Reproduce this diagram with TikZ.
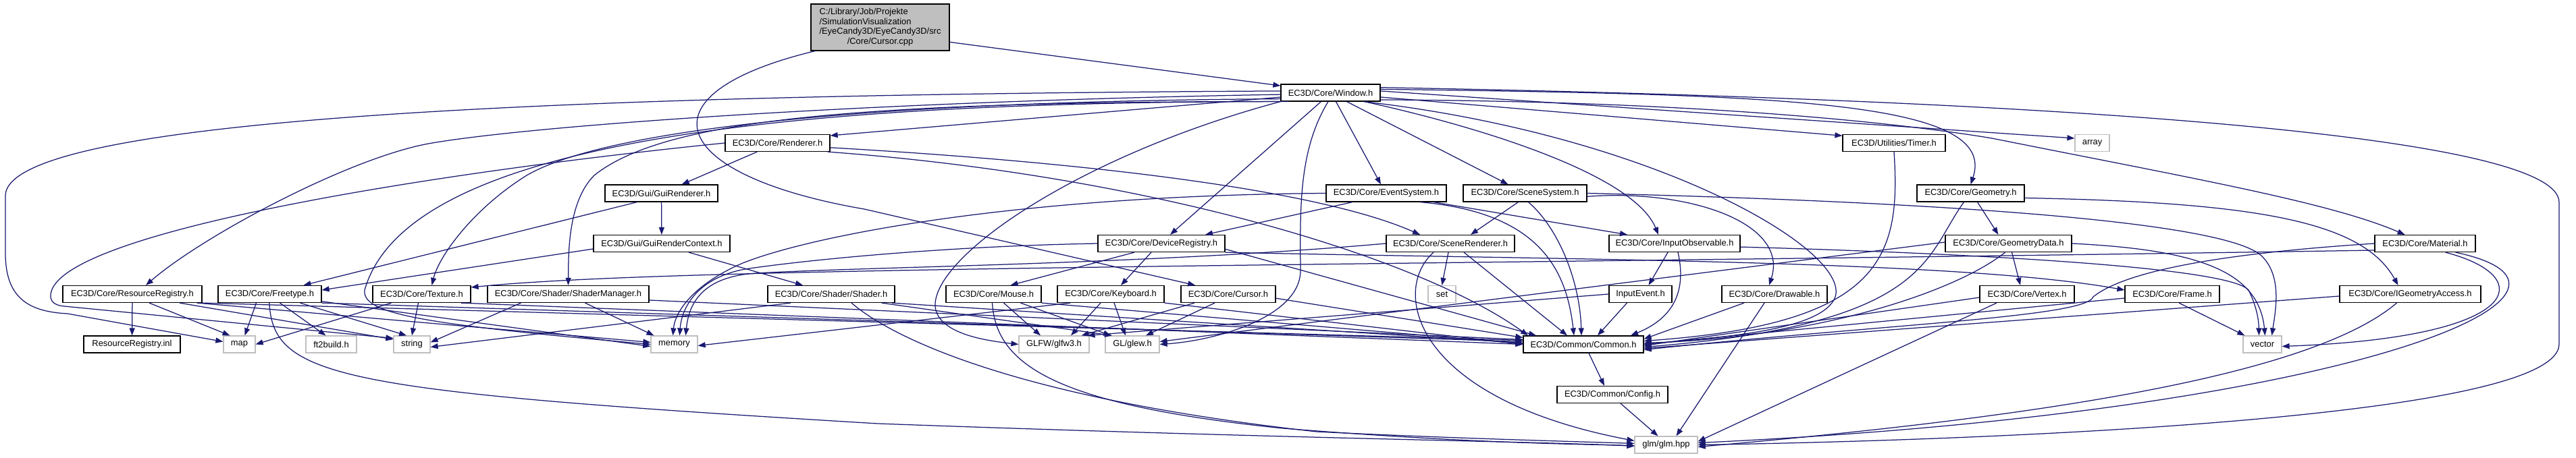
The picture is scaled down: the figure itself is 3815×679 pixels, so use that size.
\documentclass[tikz,border=0pt]{standalone}
\usepackage{fontspec}
\setmainfont{Liberation Sans}
\usetikzlibrary{arrows.meta}
\definecolor{edgeblue}{HTML}{191970}
\definecolor{boxgray}{HTML}{BFBFBF}
\definecolor{srcfill}{HTML}{BFBFBF}
\begin{document}
\begin{tikzpicture}[x=1pt,y=-1pt,
  hbox/.style={draw=black, fill=white, line width=1.2pt, minimum height=25pt, inner sep=1pt, font=\fontsize{12.9}{15.5}\selectfont, text=black},
  sysbox/.style={hbox, draw=boxgray},
  srcbox/.style={hbox, fill=srcfill, minimum height=69pt, font=\fontsize{12.9}{14.5}\selectfont},
  dep/.style={draw=edgeblue, line width=1.25pt, -{Triangle[length=11pt,width=8pt]}},
]
\fill[white] (0,0) rectangle (3815,679);
\useasboundingbox (0,0) rectangle (3815,679);

% ---------------- nodes ----------------
\node[srcbox, minimum width=205pt] (src) at (1303.5,40.5) {\begin{tabular}{@{}l@{}}C:/Library/Job/Projekte\\/SimulationVisualization\\/EyeCandy3D/EyeCandy3D/src\\\multicolumn{1}{@{}c@{}}{/Core/Cursor.cpp}\end{tabular}};
\node[hbox, minimum width=147pt] (win) at (1970.5,137.5) {EC3D/Core/Window.h};
\node[hbox, minimum width=155pt] (rend) at (1151.5,212) {EC3D/Core/Renderer.h};
\node[hbox, minimum width=152pt] (timer) at (2805,212) {EC3D/Utilities/Timer.h};
\node[sysbox, minimum width=51pt] (array) at (3098.5,212) {array};
\node[hbox, minimum width=167pt] (guir) at (979.5,286.5) {EC3D/Gui/GuiRenderer.h};
\node[hbox, minimum width=178pt] (evsys) at (2053,286.5) {EC3D/Core/EventSystem.h};
\node[hbox, minimum width=183pt] (scsys) at (2258.5,286.5) {EC3D/Core/SceneSystem.h};
\node[hbox, minimum width=159pt] (geom) at (2918.5,286.5) {EC3D/Core/Geometry.h};
\node[hbox, minimum width=202pt] (guictx) at (980,361) {EC3D/Gui/GuiRenderContext.h};
\node[hbox, minimum width=188pt] (devreg) at (1720,361) {EC3D/Core/DeviceRegistry.h};
\node[hbox, minimum width=190pt] (scrend) at (2148,361) {EC3D/Core/SceneRenderer.h};
\node[hbox, minimum width=194pt] (inobs) at (2480,361) {EC3D/Core/InputObservable.h};
\node[hbox, minimum width=187pt] (geodata) at (2974.5,361) {EC3D/Core/GeometryData.h};
\node[hbox, minimum width=149pt] (material) at (3591.5,361) {EC3D/Core/Material.h};
\node[hbox, minimum width=206pt] (resreg) at (196,436) {EC3D/Core/ResourceRegistry.h};
\node[hbox, minimum width=153pt] (freetype) at (399.5,436) {EC3D/Core/Freetype.h};
\node[hbox, minimum width=145pt] (texture) at (624.5,436) {EC3D/Core/Texture.h};
\node[hbox, minimum width=239pt] (shmgr) at (841.5,436) {EC3D/Core/Shader/ShaderManager.h};
\node[hbox, minimum width=188pt] (shader) at (1231,436) {EC3D/Core/Shader/Shader.h};
\node[hbox, minimum width=141pt] (mouse) at (1471.5,436) {EC3D/Core/Mouse.h};
\node[hbox, minimum width=158pt] (keyb) at (1645,436) {EC3D/Core/Keyboard.h};
\node[hbox, minimum width=140pt] (cursorh) at (1819,436) {EC3D/Core/Cursor.h};
\node[sysbox, minimum width=41pt] (set) at (2135.5,436) {set};
\node[hbox, minimum width=93pt] (inevent) at (2429.5,436) {InputEvent.h};
\node[hbox, minimum width=156pt] (drawable) at (2628,436) {EC3D/Core/Drawable.h};
\node[hbox, minimum width=140pt] (vertex) at (3002,436) {EC3D/Core/Vertex.h};
\node[hbox, minimum width=140pt] (frame) at (3217,436) {EC3D/Core/Frame.h};
\node[hbox, minimum width=209pt] (igeo) at (3569.5,436) {EC3D/Core/IGeometryAccess.h};
\node[hbox, minimum width=143pt] (resinl) at (195.5,510.5) {ResourceRegistry.inl};
\node[sysbox, minimum width=47pt] (map) at (354.5,510.5) {map};
\node[sysbox, minimum width=75pt] (ft2) at (490.5,510.5) {ft2build.h};
\node[sysbox, minimum width=54pt] (string) at (610,510.5) {string};
\node[sysbox, minimum width=69pt] (memory) at (998.5,510.5) {memory};
\node[sysbox, minimum width=104pt] (glfw) at (1561,510.5) {GLFW/glfw3.h};
\node[sysbox, minimum width=80pt] (glew) at (1677,510.5) {GL/glew.h};
\node[hbox, minimum width=178pt] (common) at (2345,510.5) {EC3D/Common/Common.h};
\node[sysbox, minimum width=57pt] (vector) at (3350.5,510.5) {vector};
\node[hbox, minimum width=164pt] (config) at (2388,585) {EC3D/Common/Config.h};
\node[sysbox, minimum width=93pt] (glm) at (2467.5,659.5) {glm/glm.hpp};

% ---------------- source ----------------
\draw[dep] (src.-12) -- (win.172);
\draw[dep] (src.200) .. controls (940,140) and (990,260) .. (1280,310) -- (cursorh.165);

% ---------------- Window.h ----------------
\draw[dep] (win.185) -- (rend.8);
\draw[dep] (win.182) .. controls (1300,150) and (800,185) .. (640,212) .. controls (520,232) and (300,350) .. ([xshift=20pt]resreg.north);
\draw[dep] (win.187) .. controls (1300,150) and (900,190) .. (780,260) .. controls (700,310) and (650,380) .. ([xshift=15pt]texture.north);
\draw[dep] (win.190) .. controls (1250,150) and (980,180) .. (880,260) .. controls (840,300) and (842,380) .. (shmgr.north);
\draw[dep] (win.178) .. controls (900,140) and (10,170) .. (8,290) -- (8,375) .. controls (8,440) and (40,462) .. (100,465) -- ([yshift=4pt]map.west);
\draw[dep] (win.192) .. controls (1100,150) and (600,220) .. (540,430) .. controls (536,465) and (620,480) .. (memory.west);
\draw[dep] (win.south west) .. controls (1600,230) and (1380,380) .. (1385,455) .. controls (1390,495) and (1460,505) .. (glfw.west);
\draw[dep] (win.-105) .. controls (1925,220) and (1925,300) .. (1926,400) .. controls (1927,470) and (1800,505) .. (glew.east);
\draw[dep] ([xshift=-14pt]win.south) -- ([xshift=13pt]devreg.north);
\draw[dep] ([xshift=8pt]win.south) -- ([xshift=-8pt]evsys.north);
\draw[dep] ([xshift=24pt]win.south) -- ([xshift=-25pt]scsys.north);
\draw[dep] ([xshift=50pt]win.south) .. controls (2200,190) and (2420,260) .. ([xshift=-24pt]inobs.north);
\draw[dep] (win.-5) -- (timer.172);
\draw[dep] (win.2) -- (array.165);
\draw[dep] (win.4) .. controls (2650,140) and (2960,150) .. (geom.north);
\draw[dep] (win.-8) .. controls (2500,150) and (2800,180) .. (2950,205) .. controls (3250,265) and (3450,300) .. ([xshift=-30pt]material.north);
\draw[dep] (win.6) .. controls (2900,145) and (3790,190) .. (3790,300) -- (3790,510) .. controls (3790,630) and (2800,655) .. (glm.east);
\draw[dep] (win.-15) .. controls (2450,200) and (2740,370) .. (2718,440) .. controls (2700,490) and (2550,500) .. (common.east);

% ---------------- Renderer.h ----------------
\draw[dep] (rend) -- (guir);
\draw[dep] (rend.-5) .. controls (1600,240) and (1950,280) .. ([xshift=-45pt]scrend.north);
\draw[dep] (rend.-10) .. controls (1700,260) and (2100,380) .. ([xshift=-82pt]common.north);
\draw[dep] (rend.west) .. controls (600,260) and (70,350) .. (75,440) .. controls (76,450) and (85,453) .. (95,454) -- ([yshift=9pt]string.west);

% ---------------- Gui ----------------
\draw[dep] (guir) -- (guictx);
\draw[dep] (guir.-160) -- ([xshift=50pt]freetype.north);
\draw[dep] ([yshift=-8pt]guictx.west) -- ([yshift=6pt]freetype.east);
\draw[dep] ([xshift=40pt]guictx.south) -- ([xshift=-42pt]shader.north);

% ---------------- ResourceRegistry.h ----------------
\draw[dep] (resreg) -- (resinl);
\draw[dep] ([xshift=25pt]resreg.south) -- ([xshift=-14pt]map.north);
\draw[dep] ([xshift=70pt]resreg.south) -- (string.165);
\draw[dep] ([xshift=-8pt]resreg.south east) -- ([yshift=3pt]memory.west);
\draw[dep] (resreg.south east) -- ([yshift=6pt]common.west);

% ---------------- Freetype.h ----------------
\draw[dep] ([xshift=-20pt]freetype.south) -- ([xshift=8pt]map.north);
\draw[dep] ([xshift=15pt]freetype.south) -- ([xshift=-8pt]ft2.north);
\draw[dep] ([xshift=45pt]freetype.south) -- ([xshift=-8pt]string.north);
\draw[dep] (freetype.-93) .. controls (405,560) and (500,580) .. (1300,628) .. controls (1900,650) and (2300,655) .. ([yshift=-2pt]glm.west);
\draw[dep] (freetype.-8) -- ([yshift=-3pt]memory.west);
\draw[dep] (freetype.south east) -- ([yshift=4pt]common.west);

% ---------------- Texture.h ----------------
\draw[dep] ([xshift=-45pt]texture.south) -- (map.east);
\draw[dep] ([xshift=-5pt]texture.south) -- (string.north);
\draw[dep] ([xshift=-15pt]texture.south east) -- (common.west);

% ---------------- ShaderManager.h ----------------
\draw[dep] ([xshift=-70pt]shmgr.south) -- ([yshift=3pt]string.east);
\draw[dep] ([xshift=25pt]shmgr.south) -- ([xshift=-30pt]memory.north);
\draw[dep] ([yshift=-9pt]shmgr.east) -- ([yshift=7pt]common.west);

% ---------------- Shader.h ----------------
\draw[dep] ([xshift=30pt]shader.south) .. controls (1320,500) and (1500,590) .. (1950,640) .. controls (2150,650) and (2350,655) .. ([yshift=2pt]glm.west);
\draw[dep] ([xshift=-5pt]shader.south east) -- ([yshift=2pt]common.west);
\draw[dep] ([xshift=-20pt]shader.south east) -- ([xshift=-30pt]glew.north);
\draw[dep] ([xshift=-60pt]shader.south) -- ([yshift=-4pt]string.east);

% ---------------- Mouse / Keyboard / Cursor ----------------
\draw[dep] ([xshift=15pt]mouse.south) -- ([xshift=-20pt]glfw.north);
\draw[dep] ([xshift=40pt]mouse.south) -- ([xshift=-32pt]glew.north);
\draw[dep] ([xshift=-2pt]mouse.south) .. controls (1475,540) and (1560,600) .. (1900,635) .. controls (2150,655) and (2300,658) .. ([yshift=-1pt]glm.west);
\draw[dep] (mouse.south east) -- ([yshift=1pt]common.west);
\draw[dep] ([xshift=-15pt]keyb.south) -- ([xshift=25pt]glfw.north);
\draw[dep] ([xshift=5pt]keyb.south) -- ([xshift=-10pt]glew.north);
\draw[dep] ([xshift=-60pt]keyb.south) -- ([yshift=-2pt]memory.east);
\draw[dep] (keyb.south east) -- (common.west);
\draw[dep] ([xshift=-50pt]cursorh.south) -- ([xshift=-12pt]glfw.north east);
\draw[dep] ([xshift=-20pt]cursorh.south) -- ([xshift=20pt]glew.north);
\draw[dep] (cursorh.-5) -- ([yshift=10pt]common.west);

% ---------------- DeviceRegistry.h ----------------
\draw[dep] ([xshift=-40pt]devreg.south) -- ([xshift=25pt]mouse.north);
\draw[dep] ([xshift=-15pt]devreg.south) -- ([xshift=15pt]keyb.north);
\draw[dep] (devreg.west) .. controls (1400,365) and (1200,385) .. (1110,398) .. controls (1040,408) and (1010,450) .. ([xshift=8pt]memory.north);
\draw[dep] (devreg.-5) -- ([xshift=-70pt]common.north);
\draw[dep] (devreg.south east) .. controls (2300,385) and (2900,385) .. ([yshift=6pt]frame.west);

% ---------------- EventSystem.h ----------------
\draw[dep] ([xshift=-50pt]evsys.south) -- ([xshift=65pt]devreg.north);
\draw[dep] ([xshift=70pt]evsys.south) -- ([xshift=-70pt]inobs.north);
\draw[dep] ([xshift=50pt]evsys.south) .. controls (2280,315) and (2320,400) .. ([xshift=-14pt]common.north);
\draw[dep] (evsys.west) .. controls (1500,290) and (1200,350) .. (1100,390) .. controls (1030,420) and (1000,460) .. ([xshift=-2pt]memory.north);

% ---------------- SceneSystem.h ----------------
\draw[dep] ([xshift=-10pt]scsys.south) -- ([xshift=30pt]scrend.north);
\draw[dep] ([xshift=5pt]scsys.south) .. controls (2310,340) and (2340,420) .. ([xshift=-3pt]common.north);
\draw[dep] (scsys.east) .. controls (2900,300) and (3300,330) .. (3350,380) .. controls (3380,410) and (3370,460) .. ([xshift=14pt]vector.north);
\draw[dep] (scsys.-3) .. controls (2500,280) and (2650,330) .. ([xshift=-8pt]drawable.north);

% ---------------- SceneRenderer.h ----------------
\draw[dep] ([xshift=-3pt]scrend.south) -- (set.north);
\draw[dep] ([xshift=20pt]scrend.south) -- ([xshift=-24pt]common.north);
\draw[dep] ([xshift=-25pt]scrend.south) .. controls (2060,430) and (2090,590) .. ([yshift=6pt]glm.west);
\draw[dep] (scrend.west) .. controls (1700,392) and (1300,395) .. (1120,405) .. controls (1040,410) and (1020,450) .. ([xshift=17pt]memory.north);

% ---------------- InputObservable.h / InputEvent.h ----------------
\draw[dep] ([xshift=-10pt]inobs.south) -- ([xshift=12pt]inevent.north);
\draw[dep] ([xshift=5pt]inobs.south) .. controls (2500,440) and (2470,475) .. ([xshift=70pt]common.north);
\draw[dep] (inobs.-3) .. controls (2900,375) and (3300,395) .. (3330,430) .. controls (3340,450) and (3345,470) .. ([xshift=-5pt]vector.north);
\draw[dep] ([xshift=-20pt]inevent.south) -- ([xshift=21pt]common.north);
\draw[dep] (inevent.west) -- ([xshift=-3pt]glfw.north east);

% ---------------- Drawable.h / Timer.h ----------------
\draw[dep] ([xshift=-45pt]drawable.south) -- ([yshift=8pt]common.east);
\draw[dep] ([xshift=-15pt]drawable.south) -- ([xshift=15pt]glm.north);
\draw[dep] (timer.south) .. controls (2815,380) and (2790,480) .. ([yshift=5pt]common.east);

% ---------------- Geometry ----------------
\draw[dep] ([xshift=10pt]geom.south) -- ([xshift=-15pt]geodata.north);
\draw[dep] (geom.-5) .. controls (3350,300) and (3500,330) .. ([xshift=-18pt]igeo.north);
\draw[dep] ([xshift=-10pt]geom.south) .. controls (2850,380) and (2860,480) .. ([yshift=-4pt]common.east);
\draw[dep] ([xshift=5pt]geodata.south) -- ([xshift=-10pt]vertex.north);
\draw[dep] ([xshift=-5pt]geodata.south) .. controls (2900,430) and (2700,500) .. ([yshift=2pt]common.east);
\draw[dep] (geodata.east) .. controls (3250,370) and (3345,400) .. ([xshift=4pt]vector.north);
\draw[dep] ([yshift=2pt]geodata.west) -- ([yshift=4pt]glew.east);
\draw[dep] ([yshift=-5pt]vertex.west) -- ([yshift=-2pt]common.east);
\draw[dep] ([xshift=-45pt]vertex.south) -- ([yshift=5pt]glm.east);
\draw[dep] ([xshift=10pt]frame.south) -- ([xshift=3pt]vector.north west);
\draw[dep] ([yshift=-6pt]frame.west) -- (common.east);
\draw[dep] ([yshift=-3pt]igeo.west) -- ([yshift=-6pt]common.east);
\draw[dep] ([xshift=-20pt]igeo.south) .. controls (3420,560) and (3000,620) .. ([yshift=-3pt]glm.east);

% ---------------- Material.h ----------------
\draw[dep] ([yshift=-10pt]material.west) .. controls (2000,395) and (1000,395) .. ([yshift=10pt]texture.east);
\draw[dep] (material.west) .. controls (3300,375) and (3150,400) .. (3100,440) .. controls (3090,470) and (2800,480) .. ([yshift=-8pt]common.east);
\draw[dep] ([xshift=30pt]material.south) .. controls (3760,410) and (3740,500) .. ([yshift=-3pt]vector.east);
\draw[dep] ([xshift=45pt]material.south) .. controls (3900,430) and (3500,610) .. ([yshift=3pt]glm.east);

% ---------------- Common / Config ----------------
\draw[dep] ([xshift=8pt]common.south) -- ([xshift=-12pt]config.north);
\draw[dep] ([xshift=12pt]config.south) -- ([xshift=-12pt]glm.north);
\end{tikzpicture}
\end{document}
